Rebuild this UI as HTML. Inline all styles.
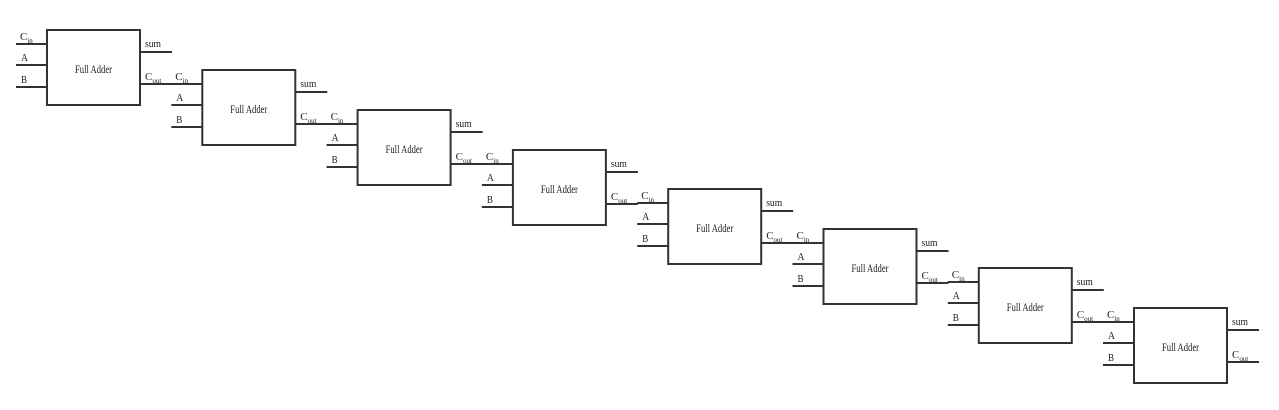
<!DOCTYPE html>
<html><head><meta charset="utf-8"><style>
html,body{margin:0;padding:0;background:#fff;}
svg{display:block;}
text{font-family:"Liberation Serif",serif;fill:#222;}
.l{stroke:#333;stroke-width:2;fill:none;}
.s{font-size:11px;}
.f{font-size:12px;}
.u{font-size:7px;}
</style></head><body>
<svg width="1279" height="410" viewBox="0 0 1279 410">
<defs>
<g id="fa">
<rect x="0" y="0" width="93" height="75" class="l"/>
<line x1="-31" y1="14" x2="0" y2="14" class="l"/>
<line x1="-31" y1="35" x2="0" y2="35" class="l"/>
<line x1="-31" y1="57" x2="0" y2="57" class="l"/>
<line x1="93" y1="22" x2="125" y2="22" class="l"/>
<line x1="93" y1="54" x2="125" y2="54" class="l"/>
<text x="-27" y="10" class="s">C<tspan class="u" dy="3">in</tspan></text>
<text x="-26" y="31" class="s" textLength="7" lengthAdjust="spacingAndGlyphs">A</text>
<text x="-26" y="53" class="s" textLength="6" lengthAdjust="spacingAndGlyphs">B</text>
<text x="98" y="17" class="s" textLength="16" lengthAdjust="spacingAndGlyphs">sum</text>
<text x="98" y="50" class="s">C<tspan class="u" dy="3">out</tspan></text>
<text x="28" y="43" class="f" textLength="37" lengthAdjust="spacingAndGlyphs">Full Adder</text>
</g>
</defs>
<use href="#fa" x="47" y="30"/>
<use href="#fa" x="202.3" y="70"/>
<use href="#fa" x="357.6" y="110"/>
<use href="#fa" x="512.9" y="150"/>
<use href="#fa" x="668.2" y="189"/>
<use href="#fa" x="823.5" y="229"/>
<use href="#fa" x="978.8" y="268"/>
<use href="#fa" x="1134" y="308"/>
</svg>
</body></html>
